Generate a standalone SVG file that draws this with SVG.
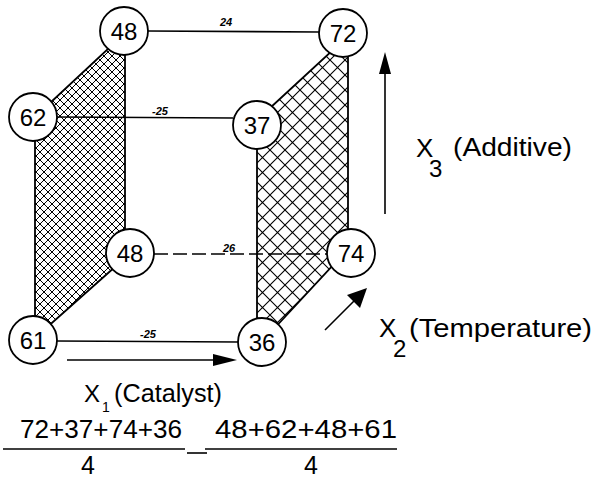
<svg xmlns="http://www.w3.org/2000/svg" width="595" height="478" viewBox="0 0 595 478">
<style>
.t{font-family:"Liberation Sans",Arial,sans-serif;fill:#000}
.n{font-size:24px;text-anchor:middle}
.e{font-size:11px;font-weight:bold;font-style:italic;text-anchor:middle}
.ax{font-size:26px}
.c{fill:#fff;stroke:#000;stroke-width:1.8}
.ln{stroke:#000;stroke-width:1.6;fill:none}
</style>
<defs>
<pattern id="hL" patternUnits="userSpaceOnUse" width="8" height="8">
<path d="M0,0L8,8M8,0L0,8" stroke="#000" stroke-width="1"/>
</pattern>
<pattern id="hR" patternUnits="userSpaceOnUse" width="15" height="15">
<path d="M0,0L15,15M15,0L0,15" stroke="#000" stroke-width="1.1"/>
</pattern>
</defs>
<rect width="595" height="478" fill="#fff"/>
<g id="faces">
<polygon points="35,117 125,33 125,258 35,338" fill="url(#hL)" stroke="#000" stroke-width="1.8"/>
<polygon points="257,120 348,36 348,249 257,347" fill="url(#hR)" stroke="#000" stroke-width="1.8"/>
</g>
<g id="connectors">
<line class="ln" x1="148" y1="31" x2="319" y2="32"/>
<line class="ln" x1="57" y1="117" x2="233" y2="118"/>
<line class="ln" x1="154" y1="254" x2="327" y2="254" stroke-dasharray="14,5"/>
<line class="ln" x1="57" y1="341" x2="238" y2="342"/>
<line class="ln" x1="67" y1="360" x2="215" y2="360"/>
<polygon points="237,360 213,354 213,366" fill="#000"/>
<line class="ln" x1="385" y1="214" x2="385" y2="72"/>
<polygon points="385,52 379,74 391,74" fill="#000"/>
<line class="ln" x1="325" y1="330" x2="355" y2="300"/>
<polygon points="367,288 360,308 347,295" fill="#000"/>
</g>
<g id="edge-labels">
<text class="t e" x="226" y="26">24</text>
<text class="t e" x="160" y="115">-25</text>
<text class="t e" x="229" y="252">26</text>
<text class="t e" x="148" y="338">-25</text>
</g>
<g id="n48a"><circle class="c" cx="124" cy="31" r="24"/><text class="t n" x="124" y="40">48</text></g>
<g id="n72"><circle class="c" cx="343" cy="33" r="24"/><text class="t n" x="343" y="42">72</text></g>
<g id="n62"><circle class="c" cx="33" cy="117" r="24"/><text class="t n" x="33" y="126">62</text></g>
<g id="n37"><circle class="c" cx="257" cy="125" r="24"/><text class="t n" x="257" y="134">37</text></g>
<g id="n48b"><circle class="c" cx="130" cy="253" r="24"/><text class="t n" x="130" y="262">48</text></g>
<g id="n74"><circle class="c" cx="351" cy="253" r="24"/><text class="t n" x="351" y="262">74</text></g>
<g id="n61"><circle class="c" cx="33" cy="340" r="24"/><text class="t n" x="33" y="349">61</text></g>
<g id="n36"><circle class="c" cx="262" cy="342" r="24"/><text class="t n" x="262" y="351">36</text></g>
<g id="axis-labels">
<text class="t ax" x="416" y="157">X</text>
<text class="t" font-size="24" x="429" y="177">3</text>
<text class="t ax" x="453" y="156" textLength="119" lengthAdjust="spacingAndGlyphs">(Additive)</text>
<text class="t ax" x="379" y="337">X</text>
<text class="t" font-size="24" x="393" y="357">2</text>
<text class="t ax" x="409" y="337" textLength="183" lengthAdjust="spacingAndGlyphs">(Temperature)</text>
<text class="t" font-size="24" x="84" y="402">X</text>
<text class="t" font-size="14" x="102" y="412">1</text>
<text class="t" font-size="25" x="114" y="402" textLength="108" lengthAdjust="spacingAndGlyphs">(Catalyst)</text>
</g>
<g id="formula">
<text class="t" font-size="26" x="20" y="438" textLength="162" lengthAdjust="spacingAndGlyphs">72+37+74+36</text>
<line class="ln" x1="3" y1="449" x2="185" y2="449"/>
<text class="t" font-size="25" x="88" y="474" text-anchor="middle">4</text>
<line class="ln" x1="187" y1="453" x2="207" y2="453"/>
<text class="t" font-size="26" x="215" y="438" textLength="182" lengthAdjust="spacingAndGlyphs">48+62+48+61</text>
<line class="ln" x1="205" y1="449" x2="397" y2="449"/>
<text class="t" font-size="25" x="311" y="474" text-anchor="middle">4</text>
</g>
</svg>
